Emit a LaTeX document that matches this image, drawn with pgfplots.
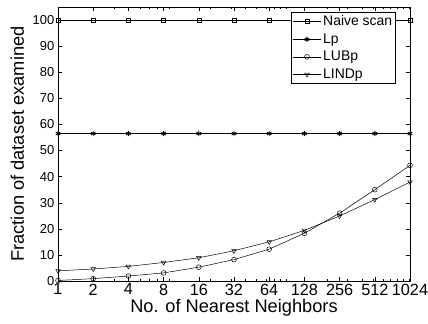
\documentclass[border=0pt]{standalone}
\usepackage{pgfplots}
\pgfplotsset{compat=1.18}
\usepackage{fontspec}
\setmainfont{Liberation Sans}
\begin{document}
\begin{tikzpicture}
\begin{axis}[
  scale only axis, width=352bp, height=274bp,
  xmin=0, xmax=10, ymin=0, ymax=105,
  xtick={0,1,2,3,4,5,6,7,8,9,10},
  xticklabels={1,2,4,8,16,32,64,128,256,512,1024},
  minor xtick={1.585,2.3219,2.585,2.807,3.1699,4.3219,4.9069,5.3219,5.6439,5.9069,6.1293,6.3219,6.4919,7.6439,8.2288,8.6439,8.9658,9.2288,9.4512,9.6439,9.8138,9.9658},
  ytick={0,10,...,100},
  tick align=inside, major tick length=4bp, minor tick length=2bp,
  tick style={black, line width=0.4pt},
  axis line style={line width=0.6pt},
  /pgf/number format/assume math mode=true,
  every x tick label/.style={font=\fontsize{16.3}{17}\selectfont, inner sep=0.5bp, yshift=-2bp},
  every y tick label/.style={font=\fontsize{13}{15}\selectfont, inner sep=1bp, xshift=-2.5bp},
  xlabel={No. of Nearest Neighbors},
  ylabel={Fraction of dataset examined},
  xlabel style={font=\fontsize{18.3}{20}\selectfont, yshift=0bp},
  ylabel style={font=\fontsize{18.3}{20}\selectfont, yshift=4bp},
  legend style={at={(0.96,0.982)}, anchor=north east, draw=black, line width=0.5pt,
    font=\fontsize{14}{16}\selectfont, inner sep=1.5bp, row sep=2.5bp, cells={anchor=west}},
  legend cell align=left,
  legend image code/.code={\draw[mark repeat=2, mark phase=2] plot coordinates {(0bp,0bp) (14bp,0bp) (28bp,0bp)};},
]
\addplot[black, line width=0.5pt, mark=square, mark size=2bp, mark options={solid, fill=white}] coordinates {
 (0,100) (1,100) (2,100) (3,100) (4,100) (5,100) (6,100) (7,100) (8,100) (9,100) (10,100)};
\addlegendentry{Naive scan}
\addplot[black, line width=0.5pt, mark=asterisk, mark size=2.6bp, mark options={line width=0.9pt}] coordinates {
 (0,56.5) (1,56.5) (2,56.5) (3,56.5) (4,56.5) (5,56.5) (6,56.5) (7,56.5) (8,56.5) (9,56.5) (10,56.5)};
\addlegendentry{Lp}
\addplot[black, line width=0.5pt, mark=o, mark size=2.4bp, mark options={solid, fill=none}] coordinates {
 (0,0.2) (1,0.9) (2,1.9) (3,3.1) (4,5.3) (5,8.2) (6,12.2) (7,18.3) (8,26) (9,35) (10,44.3)};
\addlegendentry{LUBp}
\addplot[black, line width=0.5pt, mark=triangle, mark size=2.6bp, mark options={solid, fill=none, rotate=180}] coordinates {
 (0,3.9) (1,4.6) (2,5.6) (3,7.1) (4,8.9) (5,11.6) (6,15) (7,19.4) (8,24.9) (9,31.2) (10,37.9)};
\addlegendentry{LINDp}
\end{axis}
\pgfresetboundingbox
\path ([shift={(-58bp,-43bp)}]current axis.south west) rectangle ([shift={(18bp,7bp)}]current axis.north east);
\end{tikzpicture}
\end{document}
